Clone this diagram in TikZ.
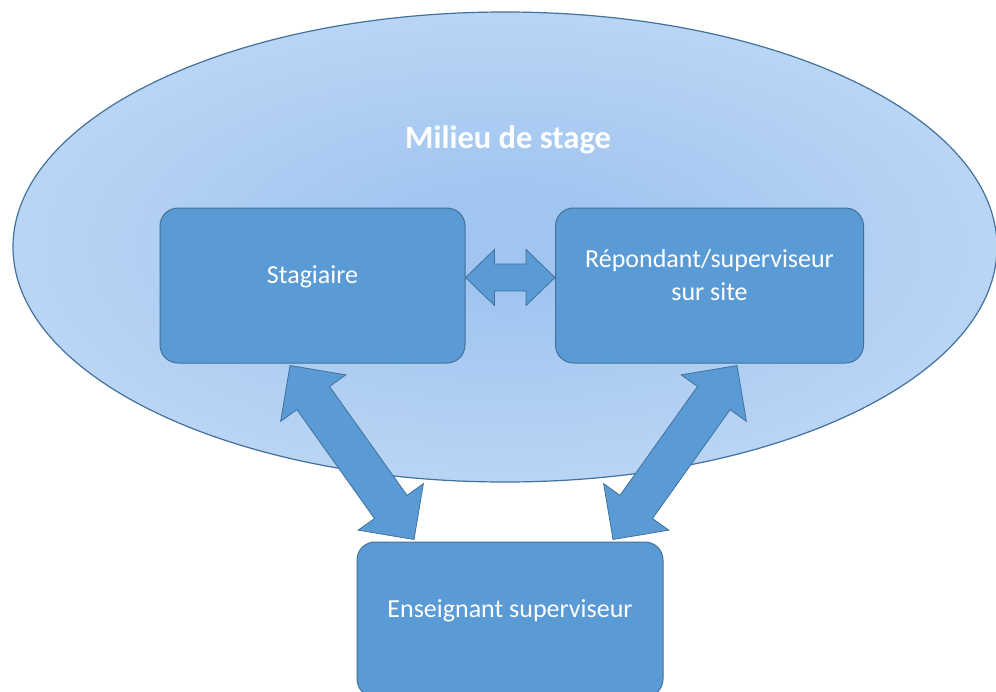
\documentclass[tikz,border=0pt]{standalone}
\usepackage{fontspec}
\setmainfont{Carlito}
\usetikzlibrary{calc}
\definecolor{boxfill}{RGB}{91,155,213}
\definecolor{boxline}{RGB}{65,113,156}
\definecolor{mcenter}{RGB}{160,197,240}
\definecolor{medge}{RGB}{218,232,250}
\pgfdeclareradialshading{milieu}{\pgfpoint{0bp}{0bp}}{color(0bp)=(mcenter); color(5bp)=(mcenter); color(50bp)=(medge); color(100bp)=(medge)}
\newcommand\fatarrow[5]{%
  \path let \p1=($(#2)-(#1)$) in \pgfextra{%
    \pgfmathsetmacro\fatang{atan2(\y1,\x1)}%
    \pgfmathsetmacro\fatlen{veclen(\x1,\y1)}%
    \global\let\fatang\fatang\global\let\fatlen\fatlen};
  \begin{scope}[shift={(#1)}, rotate=\fatang]
    \draw[arrowsty] (0pt,0pt) -- (#5pt,#4pt) -- (#5pt,#3pt)
      -- (\fatlen pt-#5pt,#3pt) -- (\fatlen pt-#5pt,#4pt) -- (\fatlen pt,0pt)
      -- (\fatlen pt-#5pt,-#4pt) -- (\fatlen pt-#5pt,-#3pt)
      -- (#5pt,-#3pt) -- (#5pt,-#4pt) -- cycle;
  \end{scope}}
\tikzset{
  boxsty/.style={draw=boxline, line width=1pt, fill=boxfill, rounded corners=18pt,
    text=white, align=center, font=\fontsize{26}{33}\selectfont,
    text height=18pt, text depth=22pt, inner sep=0pt},
  arrowsty/.style={draw=boxline, line width=0.8pt, fill=boxfill, line join=miter},
}
\begin{document}
\begin{tikzpicture}[x=1pt,y=-1pt]
\useasboundingbox (0,0) rectangle (996,691);
\fill[white] (0,0) rectangle (996,691);
% milieu ellipse
\path[shading=milieu] (505,247) ellipse [x radius=492pt, y radius=235pt];
\draw[boxline, line width=1.2pt] (505,247) ellipse [x radius=492pt, y radius=235pt];
\node[text=white, font=\bfseries\fontsize{32.5}{38}\selectfont] (titre) at (508,140) {Milieu de stage};
% boxes
\node[boxsty, minimum width=305pt, minimum height=155pt] (stag) at (312.5,285.5) {Stagiaire};
\node[boxsty, text height=51pt, minimum width=308pt, minimum height=155pt] (rep) at (709.5,285.5) {Répondant/superviseur\\sur site};
\node[boxsty, minimum width=306pt, minimum height=155pt] (ens) at (510,619.5) {Enseignant superviseur};
% arrow endpoints
\coordinate (h1) at ($(stag.east)+(0,-8)$);
\coordinate (h2) at ($(rep.west)+(0,-8)$);
\coordinate (l1) at ($(stag.south)+(-22.5,2)$);
\coordinate (l2) at ($(ens.north)+(-96,-2)$);
\coordinate (r1) at ($(rep.south)+(27.5,2)$);
\coordinate (r2) at ($(ens.north)+(103,-2)$);
\fatarrow{h1}{h2}{13.5}{28}{29}
\fatarrow{l1}{l2}{20}{40}{40}
\fatarrow{r1}{r2}{20}{40}{40}
\end{tikzpicture}
\end{document}
